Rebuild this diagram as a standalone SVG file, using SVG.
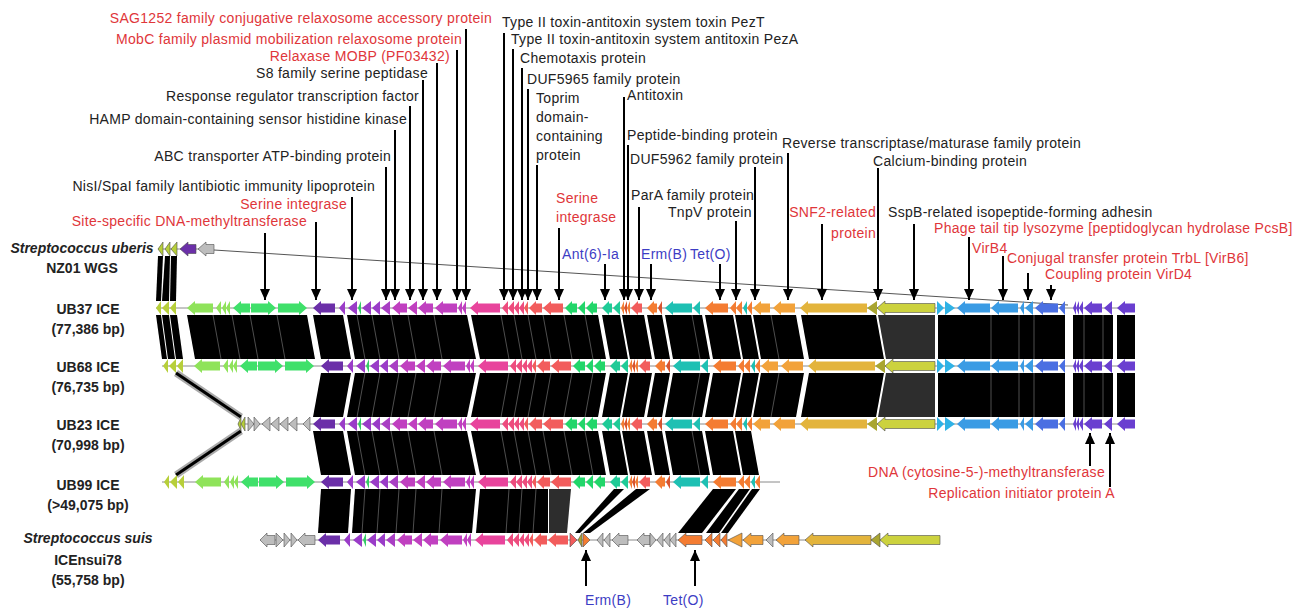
<svg xmlns="http://www.w3.org/2000/svg" xmlns:xlink="http://www.w3.org/1999/xlink" width="1296" height="611" viewBox="0 0 1296 611">
<style>
  .lbl { font-family: "Liberation Sans", Arial, sans-serif; font-size: 14px; letter-spacing: 0.3px; fill: #222; }
  .red { fill: #E0363A; }
  .blue { fill: #3D3DC4; }
  .end { text-anchor: end; }
  .trk { font-family: "Liberation Sans", Arial, sans-serif; font-weight: bold; font-size: 14px; fill: #222; text-anchor: middle; }
  .it { font-style: italic; }
  .bb { stroke: #8a8a8a; stroke-width: 1; fill: none; }
  .gene polygon { stroke: #4d4d4d; stroke-width: 0.6; }
  .yg { fill: #B7CF3A; } .lg { fill: #8FE35A; } .g { fill: #3FE06A; }
  .dp { fill: #6B2FA8; } .pu { fill: #9A3CC8; } .pu2 { fill: #A93FC4; } .g2 { fill: #33CC66; }
  .mg { fill: #C040C0; } .hp { fill: #E8449C; } .pk { fill: #EE4C7E; } .sa { fill: #F25C5C; }
  .gn { fill: #22D66A; } .tg { fill: #1FCB97; } .or { fill: #F47C32; } .rd { fill: #D9542E; }
  .te { fill: #1EC0B3; } .lo { fill: #F2A23A; } .gd { fill: #E3B43C; } .ol { fill: #A9A531; }
  .yg2 { fill: #CCD23E; } .lb { fill: #2FB2E6; } .bl { fill: #3A9BE4; } .rb { fill: #4A6FE2; }
  .vi { fill: #6A3FD0; } .gy { fill: #BDBDBD; }
  .band polygon { fill: #000; }
  .band polygon.weak { fill: #2d2d2d; }
  .seam line { stroke: #707070; stroke-width: 0.7; }
  .ptr line { stroke: #000; stroke-width: 2; }
</style>
<defs>
  <marker id="ah" viewBox="0 0 11 10" refX="11" refY="5" markerWidth="11" markerHeight="10" markerUnits="userSpaceOnUse" orient="auto">
    <path d="M0,0 L11,5 L0,10 z" fill="#000"/>
  </marker>
  <!-- gene sets drawn around y = 0, placed on each track by translate -->
  <g id="gl">
    <polygon class="yg" points="156,0 161,-7 161,7"/>
    <polygon class="yg" points="162,0 169,-7 169,7"/>
    <polygon class="yg" points="170,0 176,-7 176,7"/>
    <polygon class="lg" points="187,0 195,-7 195,-4.5 213,-4.5 213,4.5 195,4.5 195,7"/>
    <polygon class="lg" points="216,0 221,-7 221,7"/>
    <polygon class="lg" points="222,0 226,-7 226,7"/>
    <polygon class="lg" points="226,0 230,-7 230,7"/>
    <polygon class="g" points="233,0 241,-7 241,-4.5 250,-4.5 250,4.5 241,4.5 241,7"/>
    <polygon class="g" points="276,0 268,-7 268,-4.5 251,-4.5 251,4.5 268,4.5 268,7"/>
    <polygon class="g" points="307,0 299,-7 299,-4.5 278,-4.5 278,4.5 299,4.5 299,7"/>
  </g>
  <g id="ca1">
    <polygon class="dp" points="313,0 321,-7 321,-4.5 335,-4.5 335,4.5 321,4.5 321,7"/>
    <polygon class="pu" points="339,0 345,-7 345,7"/>
    <polygon class="pu" points="348,0 357,-7 357,7"/>
    <polygon class="g2" points="358,0 361,-7 361,7"/>
    <polygon class="pu" points="362,0 371,-7 371,7"/>
    <polygon class="pu" points="372,0 380,-7 380,7"/>
    <polygon class="pu2" points="381,0 390,-7 390,7"/>
    <polygon class="mg" points="392,0 400,-7 400,-4.5 407,-4.5 407,4.5 400,4.5 400,7"/>
    <polygon class="mg" points="408,0 417,-7 417,7"/>
    <polygon class="mg" points="418,0 426,-7 426,-4.5 433,-4.5 433,4.5 426,4.5 426,7"/>
    <polygon class="mg" points="435,0 443,-7 443,-4.5 457,-4.5 457,4.5 443,4.5 443,7"/>
    <polygon class="mg" points="458,0 462,-7 462,7"/>
    <polygon class="mg" points="462,0 466,-7 466,7"/>
    <polygon class="hp" points="470,0 478,-7 478,-4.5 500,-4.5 500,4.5 478,4.5 478,7"/>
    <polygon class="pk" points="502,0 508,-7 508,7"/>
    <polygon class="pk" points="508,0 514,-7 514,7"/>
    <polygon class="pk" points="514,0 519,-7 519,7"/>
    <polygon class="pk" points="519,0 524,-7 524,7"/>
    <polygon class="sa" points="524,0 528,-7 528,7"/>
    <polygon class="sa" points="529,0 536,-7 536,-4.5 542,-4.5 542,4.5 536,4.5 536,7"/>
    <polygon class="sa" points="543,0 551,-7 551,-4.5 563,-4.5 563,4.5 551,4.5 551,7"/>
  </g>
  <g id="ca2">
    <polygon class="gn" points="565,0 572,-7 572,-4.5 577,-4.5 577,4.5 572,4.5 572,7"/>
    <polygon class="gn" points="578,0 585,-7 585,7"/>
    <polygon class="gn" points="586,0 593,-7 593,-4.5 597,-4.5 597,4.5 593,4.5 593,7"/>
    <polygon class="tg" points="602,0 609,-7 609,-4.5 612,-4.5 612,4.5 609,4.5 609,7"/>
    <polygon class="tg" points="613,0 620,-7 620,7"/>
    <polygon class="or" points="621,0 624,-7 624,7"/>
    <polygon class="rd" points="624,0 627,-7 627,7"/>
    <polygon class="or" points="627,0 630,-7 630,7"/>
    <polygon class="sa" points="631,0 638,-7 638,-4.5 642,-4.5 642,4.5 638,4.5 638,7"/>
    <polygon class="or" points="647,0 654,-7 654,-4.5 657,-4.5 657,4.5 654,4.5 654,7"/>
    <polygon class="rd" points="658,0 662,-7 662,7"/>
    <polygon class="te" points="665,0 673,-7 673,-4.5 692,-4.5 692,4.5 673,4.5 673,7"/>
    <polygon class="te" points="693,0 700,-7 700,7"/>
    <polygon class="or" points="705,0 713,-7 713,-4.5 728,-4.5 728,4.5 713,4.5 713,7"/>
    <polygon class="or" points="730,0 736,-7 736,7"/>
    <polygon class="or" points="736,0 742,-7 742,7"/>
    <polygon class="te" points="743,0 747,-7 747,7"/>
    <polygon class="or" points="747,0 752,-7 752,7"/>
  </g>
  <g id="cb">
    <polygon class="lo" points="753,0 761,-7 761,-4.5 770,-4.5 770,4.5 761,4.5 761,7"/>
    <polygon class="lo" points="773,0 781,-7 781,-4.5 795,-4.5 795,4.5 781,4.5 781,7"/>
    <polygon class="gd" points="800,0 808,-7 808,-4.5 867,-4.5 867,4.5 808,4.5 808,7"/>
    <polygon class="ol" points="867,0 877,-7 877,7"/>
  </g>
  <g id="rt">
    <polygon class="lb" points="944,0 937,-7 937,7"/>
    <polygon class="lb" points="955,0 945,-7 945,7"/>
    <polygon class="bl" points="957,0 965,-7 965,-4.5 990,-4.5 990,4.5 965,4.5 965,7"/>
    <polygon class="bl" points="991,0 999,-7 999,-4.5 1018,-4.5 1018,4.5 999,4.5 999,7"/>
    <polygon class="bl" points="1020,0 1024,-7 1024,7"/>
    <polygon class="bl" points="1025,0 1033,-7 1033,7"/>
    <polygon class="rb" points="1035,0 1043,-7 1043,-4.5 1058,-4.5 1058,4.5 1043,4.5 1043,7"/>
    <polygon class="rb" points="1059,0 1065,-7 1065,7"/>
    <polygon class="vi" points="1073,0 1076,-7 1076,7"/>
    <polygon class="vi" points="1076,0 1079,-7 1079,7"/>
    <polygon class="vi" points="1079,0 1083,-7 1083,7"/>
    <polygon class="vi" points="1084,0 1092,-7 1092,-4.5 1102,-4.5 1102,4.5 1092,4.5 1092,7"/>
    <polygon class="vi" points="1104,0 1112,-7 1112,7"/>
    <polygon class="vi" points="1117,0 1125,-7 1125,-4.5 1135,-4.5 1135,4.5 1125,4.5 1125,7"/>
  </g>
  <!-- faint gene-boundary seams inside a homology block; top edge uses x, bottom edge x + 8 -->
  <g id="seams-down" class="seam">
    <line x1="213" y1="0" x2="221" y2="44"/>
    <line x1="232" y1="0" x2="240" y2="44"/>
    <line x1="250" y1="0" x2="258" y2="44"/>
    <line x1="277" y1="0" x2="285" y2="44"/>
    <line x1="357" y1="0" x2="365" y2="44"/>
    <line x1="372" y1="0" x2="380" y2="44"/>
    <line x1="391" y1="0" x2="399" y2="44"/>
    <line x1="408" y1="0" x2="416" y2="44"/>
    <line x1="434" y1="0" x2="442" y2="44"/>
    <line x1="501" y1="0" x2="509" y2="44"/>
    <line x1="514" y1="0" x2="522" y2="44"/>
    <line x1="528" y1="0" x2="536" y2="44"/>
    <line x1="543" y1="0" x2="551" y2="44"/>
    <line x1="564" y1="0" x2="572" y2="44"/>
    <line x1="585" y1="0" x2="593" y2="44"/>
    <line x1="692" y1="0" x2="700" y2="44"/>
    <line x1="771" y1="0" x2="779" y2="44"/>
    <line x1="991" y1="0" x2="991" y2="44"/>
    <line x1="1019" y1="0" x2="1019" y2="44"/>
    <line x1="1034" y1="0" x2="1034" y2="44"/>
    <line x1="1084" y1="0" x2="1084" y2="44"/>
    <line x1="1103" y1="0" x2="1103" y2="44"/>
  </g>
</defs>

<rect width="1296" height="611" fill="#fff"/>

<!-- homology blocks between neighbouring tracks -->
<g id="connectors">
  <g class="band" id="band-nz01-ub37">
    <polygon points="158,256 163,256 161,301 156,301"/>
    <polygon points="165,256 170,256 169,301 162,301"/>
    <polygon points="171,256 177,256 176,301 170,301"/>
  </g>
  <line x1="214" y1="250" x2="1068" y2="305" stroke="#555" stroke-width="1"/>
  <g class="band" id="band-ub37-ub68">
    <polygon points="156,315 161,315 167,359 162,359"/>
    <polygon points="162,315 169,315 175,359 168,359"/>
    <polygon points="170,315 177,315 183,359 176,359"/>
    <polygon points="187,315 307,315 315,359 195,359"/>
    <polygon points="313,315 343,315 351,359 321,359"/>
    <polygon points="347,315 467,315 476,359 355,359"/>
    <polygon points="471,315 598,315 606,359 480,359"/>
    <polygon points="602,315 620,315 628,359 610,359"/>
    <polygon points="622,315 644,315 652,359 630,359"/>
    <polygon points="647,315 662,315 670,359 655,359"/>
    <polygon points="665,315 702,315 710,359 673,359"/>
    <polygon points="705,315 733,315 741,359 713,359"/>
    <polygon points="735,315 751,315 759,359 743,359"/>
    <polygon points="753,315 796,315 804,359 761,359"/>
    <polygon points="801,315 876,315 884,359 809,359"/>
    <polygon class="weak" points="878,315 935,315 935,359 886,359"/>
    <polygon points="938,315 1065,315 1065,359 938,359"/>
    <polygon points="1073,315 1113,315 1113,359 1073,359"/>
    <polygon points="1117,315 1135,315 1135,359 1117,359"/>
  </g>
  <use xlink:href="#seams-down" transform="translate(0,315)"/>
  <g class="band" id="band-ub68-ub23">
    <line x1="176" y1="373" x2="241" y2="417" stroke="#aaa" stroke-width="7"/>
    <line x1="176" y1="373" x2="241" y2="417" stroke="#000" stroke-width="3"/>
    <polygon points="321,373 351,373 343,417 313,417"/>
    <polygon points="355,373 476,373 467,417 347,417"/>
    <polygon points="480,373 606,373 598,417 471,417"/>
    <polygon points="610,373 628,373 620,417 602,417"/>
    <polygon points="630,373 652,373 644,417 622,417"/>
    <polygon points="655,373 670,373 662,417 647,417"/>
    <polygon points="673,373 710,373 702,417 665,417"/>
    <polygon points="713,373 741,373 733,417 705,417"/>
    <polygon points="743,373 759,373 751,417 735,417"/>
    <polygon points="761,373 804,373 796,417 753,417"/>
    <polygon points="809,373 884,373 876,417 801,417"/>
    <polygon class="weak" points="886,373 935,373 935,417 878,417"/>
    <polygon points="938,373 1065,373 1065,417 938,417"/>
    <polygon points="1073,373 1113,373 1113,417 1073,417"/>
    <polygon points="1117,373 1135,373 1135,417 1117,417"/>
  </g>
  <g class="seam">
    <line x1="365" y1="373" x2="357" y2="417"/>
    <line x1="380" y1="373" x2="372" y2="417"/>
    <line x1="399" y1="373" x2="391" y2="417"/>
    <line x1="416" y1="373" x2="408" y2="417"/>
    <line x1="442" y1="373" x2="434" y2="417"/>
    <line x1="509" y1="373" x2="501" y2="417"/>
    <line x1="522" y1="373" x2="514" y2="417"/>
    <line x1="536" y1="373" x2="528" y2="417"/>
    <line x1="551" y1="373" x2="543" y2="417"/>
    <line x1="572" y1="373" x2="564" y2="417"/>
    <line x1="593" y1="373" x2="585" y2="417"/>
    <line x1="700" y1="373" x2="692" y2="417"/>
    <line x1="779" y1="373" x2="771" y2="417"/>
    <line x1="991" y1="373" x2="991" y2="417"/>
    <line x1="1019" y1="373" x2="1019" y2="417"/>
    <line x1="1034" y1="373" x2="1034" y2="417"/>
    <line x1="1084" y1="373" x2="1084" y2="417"/>
    <line x1="1103" y1="373" x2="1103" y2="417"/>
  </g>
  <g class="band" id="band-ub23-ub99">
    <line x1="241" y1="431" x2="176" y2="475" stroke="#aaa" stroke-width="7"/>
    <line x1="241" y1="431" x2="176" y2="475" stroke="#000" stroke-width="3"/>
    <polygon points="313,431 343,431 351,475 321,475"/>
    <polygon points="347,431 467,431 476,475 355,475"/>
    <polygon points="471,431 598,431 606,475 480,475"/>
    <polygon points="602,431 620,431 628,475 610,475"/>
    <polygon points="622,431 644,431 652,475 630,475"/>
    <polygon points="647,431 662,431 670,475 655,475"/>
    <polygon points="665,431 702,431 710,475 673,475"/>
    <polygon points="705,431 733,431 741,475 713,475"/>
    <polygon points="735,431 751,431 759,475 743,475"/>
  </g>
  <g class="seam">
    <line x1="357" y1="431" x2="365" y2="475"/>
    <line x1="372" y1="431" x2="380" y2="475"/>
    <line x1="391" y1="431" x2="399" y2="475"/>
    <line x1="408" y1="431" x2="416" y2="475"/>
    <line x1="434" y1="431" x2="442" y2="475"/>
    <line x1="501" y1="431" x2="509" y2="475"/>
    <line x1="514" y1="431" x2="522" y2="475"/>
    <line x1="528" y1="431" x2="536" y2="475"/>
    <line x1="543" y1="431" x2="551" y2="475"/>
    <line x1="564" y1="431" x2="572" y2="475"/>
    <line x1="585" y1="431" x2="593" y2="475"/>
    <line x1="692" y1="431" x2="700" y2="475"/>
  </g>
  <g class="band" id="band-ub99-suis">
    <polygon points="321,489 351,489 348,533 318,533"/>
    <polygon points="355,489 476,489 472,533 352,533"/>
    <polygon points="480,489 548,489 548,533 476,533"/>
    <polygon class="weak" points="549,489 571,489 567,533 549,533"/>
    <polygon points="614,489 624,489 580,533 575,533"/>
    <polygon points="636,489 650,489 590,533 583,533"/>
    <polygon points="713,489 736,489 702,533 678,533"/>
    <polygon points="739,489 750,489 719,533 706,533"/>
    <polygon points="752,489 760,489 728,533 721,533"/>
  </g>
  <g class="seam">
    <line x1="365" y1="489" x2="362" y2="533"/>
    <line x1="380" y1="489" x2="377" y2="533"/>
    <line x1="399" y1="489" x2="396" y2="533"/>
    <line x1="416" y1="489" x2="413" y2="533"/>
    <line x1="442" y1="489" x2="439" y2="533"/>
    <line x1="509" y1="489" x2="506" y2="533"/>
    <line x1="522" y1="489" x2="519" y2="533"/>
    <line x1="536" y1="489" x2="533" y2="533"/>
  </g>
</g>

<!-- gene tracks -->
<g id="track-nz01" class="gene">
  <line class="bb" x1="158" y1="249" x2="214" y2="249"/>
  <polygon class="yg" points="158,249 163,242 163,256"/>
  <polygon class="yg" points="165,249 170,242 170,256"/>
  <polygon class="yg" points="171,249 177,242 177,256"/>
  <polygon class="dp" points="180,249 188,242 188,244.5 196,244.5 196,253.5 188,253.5 188,256"/>
  <polygon class="gy" points="198,249 206,242 206,244.5 214,244.5 214,253.5 206,253.5 206,256"/>
</g>

<g id="track-ub37" class="gene">
  <line class="bb" x1="156" y1="308" x2="1135" y2="308"/>
  <use xlink:href="#gl" transform="translate(0,308)"/>
  <use xlink:href="#ca1" transform="translate(0,308)"/>
  <use xlink:href="#ca2" transform="translate(0,308)"/>
  <use xlink:href="#cb" transform="translate(0,308)"/>
  <polygon class="yg2" points="877,308 885,301 885,303.5 935,303.5 935,312.5 885,312.5 885,315"/>
  <use xlink:href="#rt" transform="translate(0,308)"/>
</g>

<g id="track-ub68" class="gene">
  <line class="bb" x1="162" y1="366" x2="1135" y2="366"/>
  <use xlink:href="#gl" transform="translate(7,366)"/>
  <use xlink:href="#ca1" transform="translate(8,366)"/>
  <use xlink:href="#ca2" transform="translate(8,366)"/>
  <use xlink:href="#cb" transform="translate(8,366)"/>
  <polygon class="yg2" points="885,366 893,359 893,361.5 935,361.5 935,370.5 893,370.5 893,373"/>
  <use xlink:href="#rt" transform="translate(0,366)"/>
</g>

<g id="track-ub23" class="gene">
  <line class="bb" x1="238" y1="424" x2="1135" y2="424"/>
  <polygon class="yg" points="238,424 241,417 241,431"/>
  <polygon class="yg" points="241,424 245,417 245,431"/>
  <polygon class="gy" points="254,424 248,417 248,431"/>
  <polygon class="gy" points="260,424 254,417 254,431"/>
  <polygon class="gy" points="262,424 270,417 270,431"/>
  <polygon class="gy" points="271,424 279,417 279,431"/>
  <polygon class="gy" points="280,424 288,417 288,431"/>
  <polygon class="gy" points="289,424 297,417 297,431"/>
  <polygon class="gy" points="303,424 310,417 310,431"/>
  <use xlink:href="#ca1" transform="translate(0,424)"/>
  <use xlink:href="#ca2" transform="translate(0,424)"/>
  <use xlink:href="#cb" transform="translate(0,424)"/>
  <polygon class="yg2" points="877,424 885,417 885,419.5 935,419.5 935,428.5 885,428.5 885,431"/>
  <use xlink:href="#rt" transform="translate(0,424)"/>
</g>

<g id="track-ub99" class="gene">
  <line class="bb" x1="162" y1="482" x2="780" y2="482"/>
  <use xlink:href="#gl" transform="translate(8,482)"/>
  <use xlink:href="#ca1" transform="translate(8,482)"/>
  <use xlink:href="#ca2" transform="translate(8,482)"/>
</g>

<g id="track-suis" class="gene">
  <line class="bb" x1="260" y1="540" x2="940" y2="540"/>
  <polygon class="gy" points="260,540 267,533 267,535.5 275,535.5 275,544.5 267,544.5 267,547"/>
  <polygon class="gy" points="283,540 276,533 276,547"/>
  <polygon class="gy" points="290,540 284,533 284,547"/>
  <polygon class="gy" points="297,540 291,533 291,547"/>
  <polygon class="gy" points="298,540 305,533 305,535.5 315,535.5 315,544.5 305,544.5 305,547"/>
  <use xlink:href="#ca1" transform="translate(5,540)"/>
  <polygon class="sa" points="577,540 570,533 570,547"/>
  <polygon class="ol" points="578,540 582,533 582,547"/>
  <polygon class="or" points="590,540 583,533 583,547"/>
  <polygon class="gy" points="597,540 603,533 603,547"/>
  <polygon class="gy" points="604,540 610,533 610,547"/>
  <polygon class="gy" points="612,540 619,533 619,535.5 628,535.5 628,544.5 619,544.5 619,547"/>
  <polygon class="gy" points="637,540 644,533 644,535.5 650,535.5 650,544.5 644,544.5 644,547"/>
  <polygon class="gy" points="656,540 650,533 650,547"/>
  <polygon class="gy" points="657,540 663,533 663,547"/>
  <polygon class="gy" points="664,540 670,533 670,547"/>
  <polygon class="gy" points="670,540 676,533 676,547"/>
  <polygon class="or" points="678,540 686,533 686,535.5 702,535.5 702,544.5 686,544.5 686,547"/>
  <polygon class="or" points="705,540 712,533 712,547"/>
  <polygon class="or" points="713,540 720,533 720,547"/>
  <polygon class="or" points="721,540 727,533 727,547"/>
  <polygon class="lo" points="728,540 742,533 742,547"/>
  <polygon class="lo" points="743,540 751,533 751,535.5 763,535.5 763,544.5 751,544.5 751,547"/>
  <polygon class="gy" points="766,540 773,533 773,547"/>
  <polygon class="lo" points="776,540 784,533 784,535.5 799,535.5 799,544.5 784,544.5 784,547"/>
  <polygon class="gd" points="805,540 813,533 813,535.5 871,535.5 871,544.5 813,544.5 813,547"/>
  <polygon class="ol" points="871,540 880,533 880,547"/>
  <polygon class="yg2" points="880,540 888,533 888,535.5 940,535.5 940,544.5 888,544.5 888,547"/>
</g>

<!-- track names -->
<g id="track-names">
  <text class="trk it" x="82" y="253">Streptococcus uberis</text>
  <text class="trk" x="82" y="273">NZ01 WGS</text>
  <text class="trk" x="88" y="314">UB37 ICE</text>
  <text class="trk" x="88" y="334">(77,386 bp)</text>
  <text class="trk" x="88" y="372">UB68 ICE</text>
  <text class="trk" x="88" y="392">(76,735 bp)</text>
  <text class="trk" x="88" y="430">UB23 ICE</text>
  <text class="trk" x="88" y="450">(70,998 bp)</text>
  <text class="trk" x="88" y="490">UB99 ICE</text>
  <text class="trk" x="88" y="510">(&gt;49,075 bp)</text>
  <text class="trk it" x="88" y="543">Streptococcus suis</text>
  <text class="trk" x="88" y="565">ICEnsui78</text>
  <text class="trk" x="88" y="585">(55,758 bp)</text>
</g>

<!-- pointers from annotations to genes -->
<g id="pointers" class="ptr">
  <line x1="265" y1="233" x2="265" y2="300" marker-end="url(#ah)"/>
  <line x1="316" y1="222" x2="316" y2="300" marker-end="url(#ah)"/>
  <line x1="352" y1="197" x2="352" y2="300" marker-end="url(#ah)"/>
  <line x1="386" y1="167" x2="386" y2="300" marker-end="url(#ah)"/>
  <line x1="395" y1="130" x2="395" y2="300" marker-end="url(#ah)"/>
  <line x1="410" y1="106" x2="410" y2="300" marker-end="url(#ah)"/>
  <line x1="423" y1="80" x2="423" y2="300" marker-end="url(#ah)"/>
  <line x1="437" y1="63" x2="437" y2="300" marker-end="url(#ah)"/>
  <line x1="457" y1="50" x2="457" y2="300" marker-end="url(#ah)"/>
  <line x1="466" y1="29" x2="466" y2="300" marker-end="url(#ah)"/>
  <line x1="504" y1="33" x2="504" y2="300" marker-end="url(#ah)"/>
  <line x1="513" y1="49" x2="513" y2="300" marker-end="url(#ah)"/>
  <line x1="522" y1="68" x2="522" y2="300" marker-end="url(#ah)"/>
  <line x1="528" y1="89" x2="528" y2="300" marker-end="url(#ah)"/>
  <line x1="537" y1="165" x2="537" y2="300" marker-end="url(#ah)"/>
  <line x1="559" y1="228" x2="559" y2="300" marker-end="url(#ah)"/>
  <line x1="605" y1="264" x2="605" y2="300" marker-end="url(#ah)"/>
  <line x1="624" y1="97" x2="624" y2="300" marker-end="url(#ah)"/>
  <line x1="628" y1="145" x2="628" y2="300" marker-end="url(#ah)"/>
  <line x1="639" y1="207" x2="639" y2="300" marker-end="url(#ah)"/>
  <line x1="651" y1="264" x2="651" y2="300" marker-end="url(#ah)"/>
  <line x1="720" y1="264" x2="720" y2="300" marker-end="url(#ah)"/>
  <line x1="736" y1="221" x2="736" y2="300" marker-end="url(#ah)"/>
  <line x1="755" y1="167" x2="755" y2="300" marker-end="url(#ah)"/>
  <line x1="788" y1="153" x2="788" y2="300" marker-end="url(#ah)"/>
  <line x1="822" y1="224" x2="822" y2="300" marker-end="url(#ah)"/>
  <line x1="878" y1="168" x2="878" y2="300" marker-end="url(#ah)"/>
  <line x1="914" y1="224" x2="914" y2="300" marker-end="url(#ah)"/>
  <line x1="969" y1="237" x2="969" y2="300" marker-end="url(#ah)"/>
  <line x1="1003" y1="256" x2="1003" y2="300" marker-end="url(#ah)"/>
  <line x1="1028" y1="273" x2="1028" y2="300" marker-end="url(#ah)"/>
  <line x1="1051" y1="285" x2="1051" y2="300" marker-end="url(#ah)"/>
  <line x1="1090" y1="466" x2="1090" y2="433" marker-end="url(#ah)"/>
  <line x1="1110" y1="487" x2="1110" y2="433" marker-end="url(#ah)"/>
  <line x1="586" y1="586" x2="586" y2="550" marker-end="url(#ah)"/>
  <line x1="695" y1="586" x2="695" y2="550" marker-end="url(#ah)"/>
</g>

<!-- gene annotations -->
<g id="annotations">
  <text class="lbl red end" x="492" y="23">SAG1252 family conjugative relaxosome accessory protein</text>
  <text class="lbl red end" x="462" y="44">MobC family plasmid mobilization relaxosome protein</text>
  <text class="lbl red end" x="450" y="61">Relaxase MOBP (PF03432)</text>
  <text class="lbl end" x="428" y="78">S8 family serine peptidase</text>
  <text class="lbl end" x="419" y="101">Response regulator transcription factor</text>
  <text class="lbl end" x="407" y="124">HAMP domain-containing sensor histidine kinase</text>
  <text class="lbl end" x="391" y="161">ABC transporter ATP-binding protein</text>
  <text class="lbl end" x="375" y="191">NisI/SpaI family lantibiotic immunity lipoprotein</text>
  <text class="lbl red end" x="347" y="209">Serine integrase</text>
  <text class="lbl red end" x="307" y="226">Site-specific DNA-methyltransferase</text>

  <text class="lbl" x="502" y="27">Type II toxin-antitoxin system toxin PezT</text>
  <text class="lbl" x="511" y="44">Type II toxin-antitoxin system antitoxin PezA</text>
  <text class="lbl" x="520" y="63">Chemotaxis protein</text>
  <text class="lbl" x="527" y="84">DUF5965 family protein</text>
  <text class="lbl" x="536" y="103">Toprim</text>
  <text class="lbl" x="536" y="122">domain-</text>
  <text class="lbl" x="536" y="141">containing</text>
  <text class="lbl" x="536" y="160">protein</text>
  <text class="lbl" x="627" y="100">Antitoxin</text>
  <text class="lbl" x="627" y="140">Peptide-binding protein</text>
  <text class="lbl" x="630" y="164">DUF5962 family protein</text>
  <text class="lbl" x="631" y="200">ParA family protein</text>
  <text class="lbl" x="668" y="217">TnpV protein</text>
  <text class="lbl red" x="556" y="203">Serine</text>
  <text class="lbl red" x="556" y="222">integrase</text>
  <text class="lbl" x="782" y="148">Reverse transcriptase/maturase family protein</text>
  <text class="lbl" x="873" y="166">Calcium-binding protein</text>
  <text class="lbl red end" x="876" y="217">SNF2-related</text>
  <text class="lbl red end" x="876" y="238">protein</text>
  <text class="lbl" x="888" y="217">SspB-related isopeptide-forming adhesin</text>
  <text class="lbl red" x="934" y="233">Phage tail tip lysozyme [peptidoglycan hydrolase PcsB]</text>
  <text class="lbl red" x="972" y="253">VirB4</text>
  <text class="lbl red" x="1007" y="263">Conjugal transfer protein TrbL [VirB6]</text>
  <text class="lbl red" x="1045" y="279">Coupling protein VirD4</text>
  <text class="lbl blue" x="562" y="259">Ant(6)-Ia</text>
  <text class="lbl blue" x="641" y="259">Erm(B)</text>
  <text class="lbl blue" x="690" y="259">Tet(O)</text>
  <text class="lbl red end" x="1105" y="477">DNA (cytosine-5-)-methyltransferase</text>
  <text class="lbl red end" x="1115" y="498">Replication initiator protein A</text>
  <text class="lbl blue" x="585" y="605">Erm(B)</text>
  <text class="lbl blue" x="663" y="605">Tet(O)</text>
</g>
</svg>
